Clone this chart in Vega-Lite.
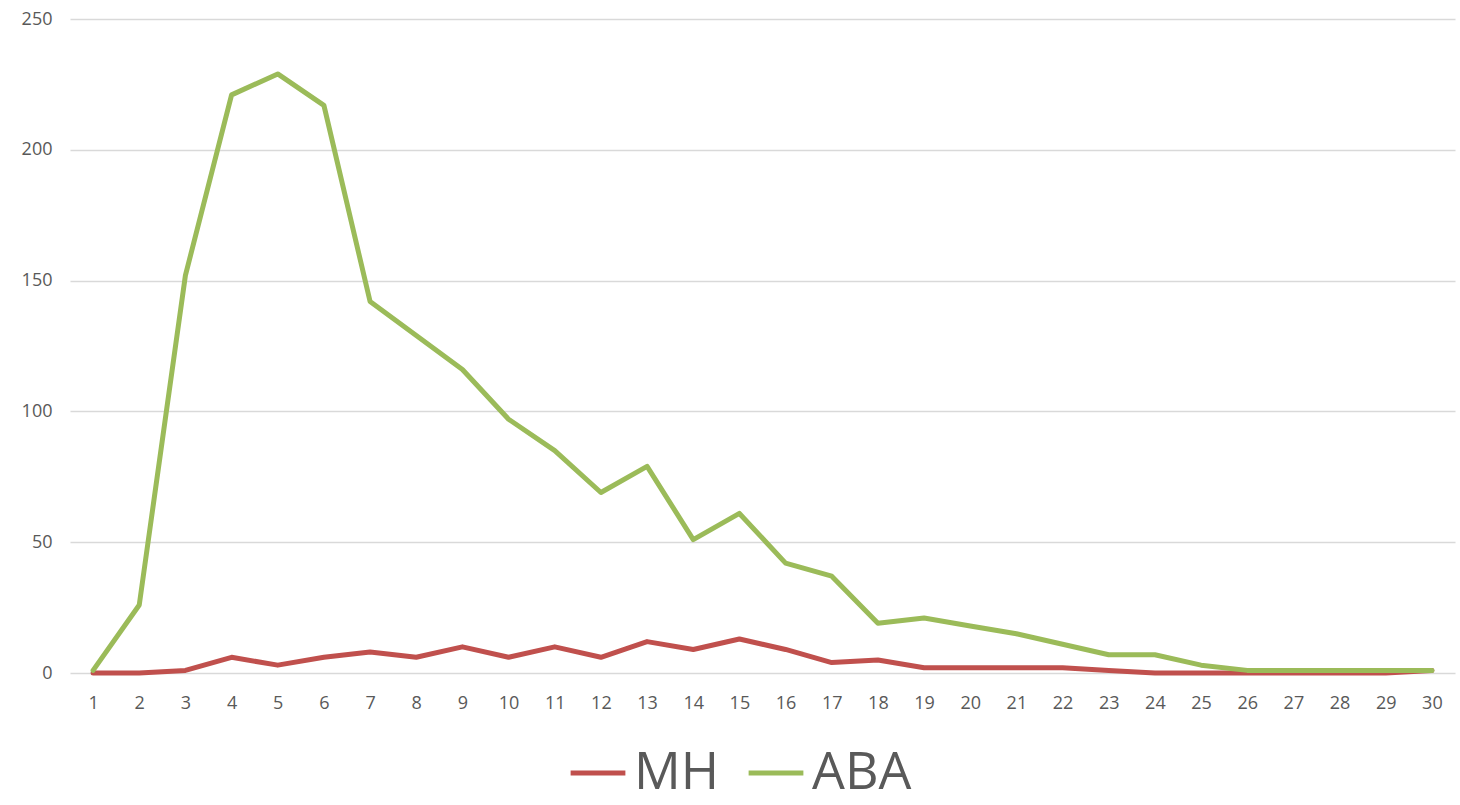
{
  "$schema": "https://vega.github.io/schema/vega-lite/v6.json",
  "width": 1385,
  "height": 654,
  "autosize": {"type": "none"},
  "padding": {"left": 70, "top": 19, "right": 5, "bottom": 132},
  "background": "white",
  "config": {"view": {"stroke": null}, "font": "Open Sans"},
  "data": {"values": [
    {"day": 1, "series": "MH", "value": 0}, {"day": 2, "series": "MH", "value": 0}, {"day": 3, "series": "MH", "value": 1},
    {"day": 4, "series": "MH", "value": 6}, {"day": 5, "series": "MH", "value": 3}, {"day": 6, "series": "MH", "value": 6},
    {"day": 7, "series": "MH", "value": 8}, {"day": 8, "series": "MH", "value": 6}, {"day": 9, "series": "MH", "value": 10},
    {"day": 10, "series": "MH", "value": 6}, {"day": 11, "series": "MH", "value": 10}, {"day": 12, "series": "MH", "value": 6},
    {"day": 13, "series": "MH", "value": 12}, {"day": 14, "series": "MH", "value": 9}, {"day": 15, "series": "MH", "value": 13},
    {"day": 16, "series": "MH", "value": 9}, {"day": 17, "series": "MH", "value": 4}, {"day": 18, "series": "MH", "value": 5},
    {"day": 19, "series": "MH", "value": 2}, {"day": 20, "series": "MH", "value": 2}, {"day": 21, "series": "MH", "value": 2},
    {"day": 22, "series": "MH", "value": 2}, {"day": 23, "series": "MH", "value": 1}, {"day": 24, "series": "MH", "value": 0},
    {"day": 25, "series": "MH", "value": 0}, {"day": 26, "series": "MH", "value": 0}, {"day": 27, "series": "MH", "value": 0},
    {"day": 28, "series": "MH", "value": 0}, {"day": 29, "series": "MH", "value": 0}, {"day": 30, "series": "MH", "value": 1},
    {"day": 1, "series": "ABA", "value": 1}, {"day": 2, "series": "ABA", "value": 26}, {"day": 3, "series": "ABA", "value": 152},
    {"day": 4, "series": "ABA", "value": 221}, {"day": 5, "series": "ABA", "value": 229}, {"day": 6, "series": "ABA", "value": 217},
    {"day": 7, "series": "ABA", "value": 142}, {"day": 8, "series": "ABA", "value": 129}, {"day": 9, "series": "ABA", "value": 116},
    {"day": 10, "series": "ABA", "value": 97}, {"day": 11, "series": "ABA", "value": 85}, {"day": 12, "series": "ABA", "value": 69},
    {"day": 13, "series": "ABA", "value": 79}, {"day": 14, "series": "ABA", "value": 51}, {"day": 15, "series": "ABA", "value": 61},
    {"day": 16, "series": "ABA", "value": 42}, {"day": 17, "series": "ABA", "value": 37}, {"day": 18, "series": "ABA", "value": 19},
    {"day": 19, "series": "ABA", "value": 21}, {"day": 20, "series": "ABA", "value": 18}, {"day": 21, "series": "ABA", "value": 15},
    {"day": 22, "series": "ABA", "value": 11}, {"day": 23, "series": "ABA", "value": 7}, {"day": 24, "series": "ABA", "value": 7},
    {"day": 25, "series": "ABA", "value": 3}, {"day": 26, "series": "ABA", "value": 1}, {"day": 27, "series": "ABA", "value": 1},
    {"day": 28, "series": "ABA", "value": 1}, {"day": 29, "series": "ABA", "value": 1}, {"day": 30, "series": "ABA", "value": 1}
  ]},
  "mark": {"type": "line", "strokeWidth": 5, "strokeJoin": "round", "strokeCap": "round"},
  "encoding": {
    "x": {
      "field": "day", "type": "ordinal",
      "scale": {"type": "point", "padding": 0.5},
      "axis": {
        "title": null, "labelAngle": 0, "labelFontSize": 18, "labelColor": "#595959",
        "domain": false, "ticks": false, "grid": false, "labelPadding": 21
      }
    },
    "y": {
      "field": "value", "type": "quantitative",
      "scale": {"domain": [0, 250]},
      "axis": {
        "title": null, "values": [0, 50, 100, 150, 200, 250], "labelFontSize": 18, "labelColor": "#595959",
        "domain": false, "ticks": false, "gridColor": "#D9D9D9", "gridWidth": 1.5, "labelPadding": 18
      }
    },
    "color": {
      "field": "series", "type": "nominal",
      "scale": {"domain": ["MH", "ABA"], "range": ["#C0504D", "#9BBB59"]},
      "legend": {
        "title": null, "orient": "none", "direction": "horizontal",
        "legendX": 498, "legendY": 724,
        "labelFontSize": 52, "labelColor": "#595959",
        "symbolType": "stroke", "symbolSize": 3000, "symbolStrokeWidth": 5,
        "columnPadding": 18, "labelOffset": 6
      }
    }
  }
}
